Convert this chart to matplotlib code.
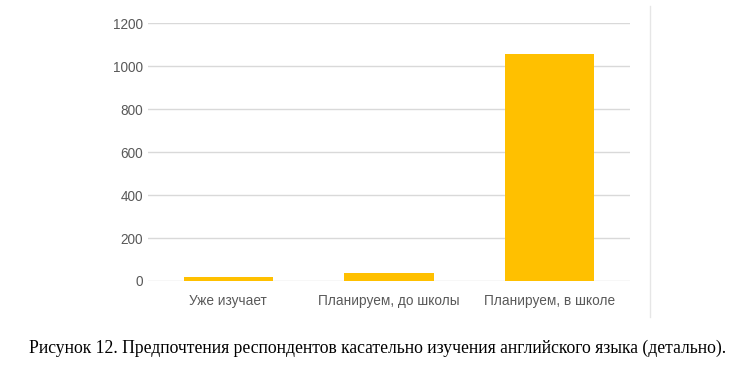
import matplotlib.pyplot as plt
from matplotlib.lines import Line2D

# данные
categories = ['Уже изучает', 'Планируем, до школы', 'Планируем, в школе']
values = [19, 38, 1057]
y_ticks = [0, 200, 400, 600, 800, 1000, 1200]
caption = 'Рисунок 12. Предпочтения респондентов касательно изучения английского языка (детально).'

W, H = 756, 374
fig = plt.figure(figsize=(W / 100, H / 100), dpi=100)

# область графика
ax = fig.add_axes([148 / W, 1 - 281 / H, (630 - 148) / W, (281 - 23.3) / H])
ax.bar(range(len(categories)), values, width=0.555, color='#FFC000', zorder=3)
ax.set_xlim(-0.5, len(categories) - 0.5)
ax.set_ylim(0, 1200)
ax.set_yticks(y_ticks)
ax.set_xticks(range(len(categories)))
ax.set_xticklabels(categories)
ax.grid(axis='y', color='#d9d9d9', linewidth=1, zorder=0)
for s in ax.spines.values():
    s.set_visible(False)
ax.tick_params(length=0, colors='#595959', labelsize=9.8)
ax.tick_params(axis='y', pad=3.5)
ax.tick_params(axis='x', pad=9)
for lbl in ax.get_xticklabels() + ax.get_yticklabels():
    lbl.set_family('Liberation Sans')

# тонкая рамка справа
fig.add_artist(Line2D([649.5 / W, 649.5 / W], [1 - 317 / H, 1 - 6 / H],
                      transform=fig.transFigure, color='#e6e6e6', linewidth=1))

# подпись
fig.text(378 / W, 1 - 348 / H, caption, ha='center', va='center',
         family='Liberation Serif', fontsize=12.7, color='black')

fig.savefig('out.png', dpi=100)
